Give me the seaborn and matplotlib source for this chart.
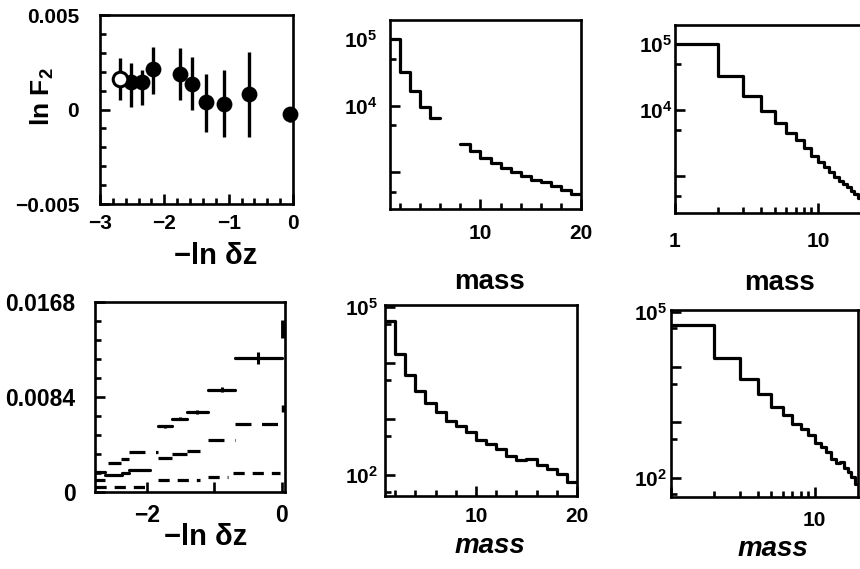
import numpy as np
import pandas as pd
import matplotlib
matplotlib.use("Agg")
import matplotlib.pyplot as plt
from matplotlib.ticker import NullFormatter
import seaborn as sns

# ---------------- data ----------------
# (a) ln F2 versus -ln dz
lnf_x = [-2.69, -2.52, -2.35, -2.17, -1.76, -1.57, -1.35, -1.07, -0.69, -0.04]
lnf_y = [0.00164, 0.00146, 0.00146, 0.00212, 0.00190, 0.00137, 0.00040, 0.00028, 0.00084, -0.00026]
lnf_err_hi = [0.00106, 0.00098, 0.00062, 0.00120, 0.00133, 0.00142, 0.00150, 0.00180, 0.00221, 0.00040]
lnf_err_lo = [0.00115, 0.00133, 0.00124, 0.00128, 0.00141, 0.00141, 0.00160, 0.00174, 0.00230, 0.00040]
lnf_open = [True, False, False, False, False, False, False, False, False, False]

# (d) moments versus -ln dz (horizontal bin bars)
a_lo = [-1.83, -1.63, -1.40, -1.09, -0.69]
a_hi = [-1.63, -1.40, -1.10, -0.69, 0.00]
a_y = [0.00581, 0.00649, 0.00707, 0.00905, 0.01185]
a_yerr = [0.00015, 0.00015, 0.00015, 0.00020, 0.00050]
a_edge_x, a_edge_y, a_edge_err = [0.02], [0.0144], [0.0008]

b_lo = [-2.57, -2.39, -2.26, -1.83, -1.63, -1.40, -1.10, -0.69]
b_hi = [-2.39, -2.26, -1.83, -1.63, -1.40, -1.21, -0.69, 0.00]
b_y = [0.00256, 0.00295, 0.00354, 0.00301, 0.00333, 0.00362, 0.00457, 0.00605]
b_edge_x, b_edge_y = [0.02], [0.00737]

c_lo = [-2.77, -2.62, -2.37, -2.26]
c_hi = [-2.62, -2.37, -2.26, -1.95]
c_y = [0.00177, 0.00148, 0.00168, 0.00198]

d_lo = [-2.77, -2.77, -1.83, -1.10, -0.72]
d_hi = [-2.62, -1.95, -1.21, -0.80, -0.02]
d_y = [0.00110, 0.00044, 0.00103, 0.00135, 0.00168]

# mass histograms (bins of unit width from 1 to 20)
mass_edges = list(range(1, 21))
counts_top = [100000, 32400, 16600, 9550, 6460, 4470, 3550, 2630, 2040, 1620,
              1350, 1150, 977, 851, 759, 692, 603, 525, 468]
counts_bottom = [56200, 14800, 6170, 3240, 1900, 1350, 933, 759, 589, 417,
                 355, 288, 214, 186, 195, 151, 129, 105, 76]

# ---------------- style ----------------
sns.set_theme(style="ticks")
plt.rcParams["font.family"] = ["Liberation Sans", "DejaVu Sans"]
plt.rcParams["font.weight"] = "bold"
plt.rcParams["mathtext.fontset"] = "custom"
plt.rcParams["mathtext.rm"] = "Liberation Sans:bold"
plt.rcParams["mathtext.bf"] = "Liberation Sans:bold"
plt.rcParams["mathtext.it"] = "Liberation Sans:italic:bold"
plt.rcParams["axes.facecolor"] = "white"
for key in ["text.color", "axes.labelcolor", "xtick.color", "ytick.color",
            "xtick.labelcolor", "ytick.labelcolor", "axes.edgecolor"]:
    plt.rcParams[key] = "black"

W, H = 860, 569
fig = plt.figure(figsize=(W / 100, H / 100), dpi=100)
fig.patch.set_facecolor("white")


def add_ax(x0, y0, x1, y1):
    return fig.add_axes([x0 / W, 1 - y1 / H, (x1 - x0) / W, (y1 - y0) / H])


def style(ax, xpad, ypad, size=15, minor_len=4.5):
    for s in ax.spines.values():
        s.set_linewidth(1.9)
        s.set_color("black")
        s.set_visible(True)
    ax.tick_params(which="both", direction="in", width=1.9, color="black",
                   labelcolor="black", labelsize=size, top=False, right=False)
    ax.tick_params(which="major", length=7.5)
    ax.tick_params(which="minor", length=minor_len)
    ax.tick_params(axis="x", which="both", pad=xpad)
    ax.tick_params(axis="y", which="both", pad=ypad)
    for lab in ax.get_xticklabels() + ax.get_yticklabels():
        lab.set_fontweight("bold")
    ax.set_xlabel("")
    ax.set_ylabel("")
    ax.grid(False)


def step_df(edges, vals):
    return pd.DataFrame({"x": list(edges), "y": list(vals) + [vals[-1]]})


def seg_df(lo, hi, y):
    rows = []
    for i, (l, h, v) in enumerate(zip(lo, hi, y)):
        rows.append({"x": l, "y": v, "seg": i})
        rows.append({"x": h, "y": v, "seg": i})
    return pd.DataFrame(rows)


LW = 2.3

# ---------------- panel 1 ----------------
ax1 = add_ax(100, 15, 293, 204)
df1 = pd.DataFrame({"x": lnf_x, "y": lnf_y, "open": lnf_open})
ax1.errorbar(lnf_x, lnf_y, yerr=[lnf_err_lo, lnf_err_hi], fmt="none",
             ecolor="black", elinewidth=2.4, capsize=0, clip_on=False, zorder=2)
sns.scatterplot(data=df1[~df1["open"]], x="x", y="y", s=130, color="black",
                edgecolor="black", linewidth=0, ax=ax1, clip_on=False, zorder=3)
sns.scatterplot(data=df1[df1["open"]], x="x", y="y", s=110, color="white",
                edgecolor="black", linewidth=2.2, ax=ax1, clip_on=False, zorder=3)
ax1.set_xlim(-3, 0)
ax1.set_ylim(-0.005, 0.005)
ax1.set_xticks([-3, -2, -1, 0], ["\u22123", "\u22122", "\u22121", "0"])
ax1.set_xticks(np.arange(-3, 0.01, 0.2), minor=True)
ax1.xaxis.set_minor_formatter(NullFormatter())
ax1.set_yticks([-0.005, 0, 0.005], ["\u22120.005", "0", "0.005"])
ax1.set_yticks(np.arange(-0.005, 0.0051, 0.001), minor=True)
ax1.yaxis.set_minor_formatter(NullFormatter())
style(ax1, xpad=7, ypad=15)
fig.text(42 / W, 1 - 97 / H, "ln F$_2$", rotation=90, ha="center", va="center",
         fontsize=19, fontweight="bold")
fig.text(216 / W, 1 - 256 / H, "\u2212ln \u03b4z", ha="center", va="center",
         fontsize=21, fontweight="bold")

# ---------------- panel 2 ----------------
ax2 = add_ax(390, 20, 581, 209)
n_first = 5   # bins 1..6 drawn
sns.lineplot(data=step_df(mass_edges[:n_first + 1], counts_top[:n_first]), x="x", y="y",
             drawstyle="steps-post", color="black", lw=LW, ax=ax2,
             estimator=None, sort=False)
sns.lineplot(data=step_df(mass_edges[7:], counts_top[7:]), x="x", y="y",
             drawstyle="steps-post", color="black", lw=LW, ax=ax2,
             estimator=None, sort=False)
ax2.set_yscale("log")
ax2.set_xlim(1, 20)
ax2.set_ylim(275, 195000)
ax2.set_xticks([10, 20], ["10", "20"])
ax2.set_xticks([2, 4, 6, 8, 12, 14, 16, 18], minor=True)
ax2.xaxis.set_minor_formatter(NullFormatter())
ax2.set_yticks([1e3, 1e4, 1e5], ["", r"$10^4$", r"$10^5$"])
ax2.set_yticks([5e2, 5e3, 5e4], minor=True)
ax2.yaxis.set_minor_formatter(NullFormatter())
style(ax2, xpad=11, ypad=9)
fig.text(490 / W, 1 - 282 / H, "mass", ha="center", va="center",
         fontsize=20, fontweight="bold")

# ---------------- panel 3 ----------------
ax3 = add_ax(675, 25, 861, 213)
sns.lineplot(data=step_df(mass_edges, counts_top), x="x", y="y",
             drawstyle="steps-post", color="black", lw=LW, ax=ax3,
             estimator=None, sort=False)
ax3.set_xscale("log")
ax3.set_yscale("log")
ax3.set_xlim(1, 20)
ax3.set_ylim(275, 195000)
ax3.set_xticks([1, 10], ["1", "10"])
ax3.set_xticks([2, 3, 4, 5, 6, 7, 8, 9], minor=True)
ax3.xaxis.set_minor_formatter(NullFormatter())
ax3.set_yticks([1e3, 1e4, 1e5], ["", r"$10^4$", r"$10^5$"])
ax3.set_yticks([5e2, 5e3, 5e4], minor=True)
ax3.yaxis.set_minor_formatter(NullFormatter())
style(ax3, xpad=14, ypad=2)
fig.text(780 / W, 1 - 283 / H, "mass", ha="center", va="center",
         fontsize=20, fontweight="bold")

# ---------------- panel 4 ----------------
ax4 = add_ax(95, 302, 285, 492)
sns.lineplot(data=seg_df(a_lo, a_hi, a_y), x="x", y="y", units="seg",
             estimator=None, sort=False, color="black", lw=LW, ax=ax4)
a_c = [(l + h) / 2 for l, h in zip(a_lo, a_hi)]
ax4.errorbar(a_c, a_y, yerr=a_yerr, fmt="none", ecolor="black",
             elinewidth=2.2, capsize=0)
ax4.errorbar(a_edge_x, a_edge_y, yerr=a_edge_err, fmt="none", ecolor="black",
             elinewidth=3.5, capsize=0)
sns.lineplot(data=seg_df(b_lo, b_hi, b_y), x="x", y="y", units="seg",
             estimator=None, sort=False, color="black", lw=LW, ax=ax4,
             linestyle=(0, (5, 3.3)))
ax4.errorbar(b_edge_x, b_edge_y, yerr=0.0003, fmt="none", ecolor="black",
             elinewidth=2.5, capsize=0)
sns.lineplot(data=seg_df(c_lo, c_hi, c_y), x="x", y="y", units="seg",
             estimator=None, sort=False, color="black", lw=LW, ax=ax4)
sns.lineplot(data=seg_df(d_lo, d_hi, d_y), x="x", y="y", units="seg",
             estimator=None, sort=False, color="black", lw=LW, ax=ax4,
             linestyle=(0, (3.5, 2.5)))
ax4.set_xlim(-2.77, 0.05)
ax4.set_ylim(0, 0.0168)
ax4.set_xticks([-2, -1, 0], ["\u22122", "", "0"])
ax4.set_yticks([0, 0.0084, 0.0168], ["0", "0.0084", "0.0168"])
ax4.set_yticks(np.arange(0, 0.01681, 0.00168), minor=True)
ax4.yaxis.set_minor_formatter(NullFormatter())
style(ax4, xpad=9, ypad=14, size=16.5)
fig.text(206 / W, 1 - 537 / H, "\u2212ln \u03b4z", ha="center", va="center",
         fontsize=21, fontweight="bold")

# ---------------- panel 5 ----------------
ax5 = add_ax(385, 305, 577, 496)
sns.lineplot(data=step_df(mass_edges, counts_bottom), x="x", y="y",
             drawstyle="steps-post", color="black", lw=LW, ax=ax5,
             estimator=None, sort=False)
ax5.set_yscale("log")
ax5.set_xlim(1, 20)
ax5.set_ylim(42, 110000)
ax5.set_xticks([10, 20], ["10", "20"])
ax5.set_xticks([2, 4, 6, 8, 12, 14, 16, 18], minor=True)
ax5.xaxis.set_minor_formatter(NullFormatter())
ax5.set_yticks([1e2, 1e3, 1e4, 1e5], [r"$10^2$", "", "", r"$10^5$"])
ax5.set_yticks([50, 5e2, 5e3, 5e4], minor=True)
ax5.yaxis.set_minor_formatter(NullFormatter())
style(ax5, xpad=8, ypad=5)
fig.text(490 / W, 1 - 546 / H, "mass", ha="center", va="center",
         fontsize=20, fontweight="bold", fontstyle="italic")

# ---------------- panel 6 ----------------
ax6 = add_ax(671, 310, 858, 497)
sns.lineplot(data=step_df(mass_edges, counts_bottom), x="x", y="y",
             drawstyle="steps-post", color="black", lw=LW, ax=ax6,
             estimator=None, sort=False)
ax6.set_xscale("log")
ax6.set_yscale("log")
ax6.set_xlim(1, 20)
ax6.set_ylim(45, 107000)
ax6.set_xticks([1, 10], ["", "10"])
ax6.set_xticks([2, 3, 4, 5, 6, 7, 8, 9], minor=True)
ax6.xaxis.set_minor_formatter(NullFormatter())
ax6.set_yticks([1e2, 1e3, 1e4, 1e5], [r"$10^2$", "", "", r"$10^5$"])
ax6.set_yticks([50, 5e2, 5e3, 5e4], minor=True)
ax6.yaxis.set_minor_formatter(NullFormatter())
style(ax6, xpad=10, ypad=3)
fig.text(773 / W, 1 - 549 / H, "mass", ha="center", va="center",
         fontsize=20, fontweight="bold", fontstyle="italic")

fig.savefig("out.png", dpi=100, facecolor="white")
